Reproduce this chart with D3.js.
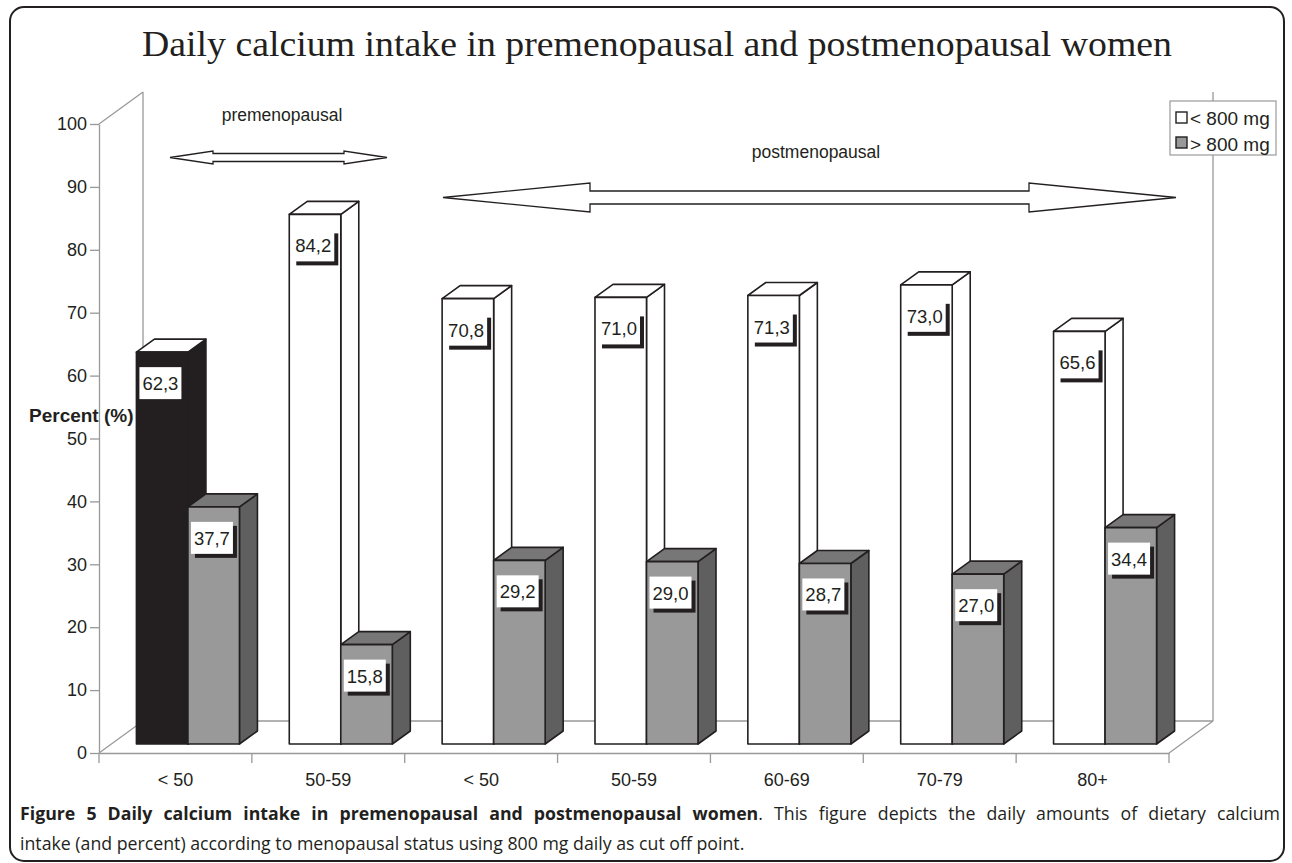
<!DOCTYPE html>
<html>
<head>
<meta charset="utf-8">
<script src="https://cdn.jsdelivr.net/npm/d3@7"></script>
<style>
  html, body { margin: 0; padding: 0; background: #fff; }
  svg { display: block; }
</style>
</head>
<body>
<svg id="chart" width="1292" height="863"></svg>
<script>
// ---------- data ----------
const categories = ["< 50", "50-59", "< 50", "50-59", "60-69", "70-79", "80+"];
const below800 = [62.3, 84.2, 70.8, 71.0, 71.3, 73.0, 65.6];
const above800 = [37.7, 15.8, 29.2, 29.0, 28.7, 27.0, 34.4];
const seriesNames = ["< 800 mg", "> 800 mg"];
const yTicks = [0, 10, 20, 30, 40, 50, 60, 70, 80, 90, 100];
const groupLabels = ["premenopausal", "postmenopausal"];
const titleText = "Daily calcium intake in premenopausal and postmenopausal women";
const yTitle = "Percent (%)";
const captionBold = "Figure 5 Daily calcium intake in premenopausal and postmenopausal women";
const captionRest1 = ". This figure depicts the daily amounts of dietary calcium";
const captionLine2 = "intake (and percent) according to menopausal status using 800 mg daily as cut off point.";

// ---------- layout ----------
const ink = "#231f20";
const wallCol = "#999999";
const sans = "'Liberation Sans', Arial, sans-serif";
const svg = d3.select("#chart");
const fmt = d3.formatLocale({decimal: ",", thousands: ".", grouping: [3], currency: ["", ""]}).format(".1f");

const x = d3.scaleBand().domain(d3.range(categories.length)).range([99, 1169]).paddingInner(0).paddingOuter(0);
const y = d3.scaleLinear().domain([0, 100]).range([753, 124]);

const wallDx = 44, wallDy = -32;      // depth of the back wall
const barOffX = 12.5, barOffY = -9;   // bars placed inside the depth
const barDx = 18, barDy = -13;        // bar 3D depth
const barW = x.bandwidth() * 0.337;

// frame
svg.append("rect").attr("x", 10).attr("y", 7).attr("width", 1274).attr("height", 854)
  .attr("rx", 14).attr("ry", 14).attr("fill", "#fff").attr("stroke", ink).attr("stroke-width", 2);

// title
svg.append("text").attr("x", 142).attr("y", 56)
  .attr("font-family", "'Liberation Serif', 'DejaVu Serif', serif").attr("font-size", 36)
  .attr("fill", ink).attr("textLength", 1030).attr("lengthAdjust", "spacingAndGlyphs")
  .text(titleText);

// walls
const X0 = x.range()[0], X1 = x.range()[1];
const Y0 = y(0), Y100 = y(100);
const wall = svg.append("g").attr("stroke", wallCol).attr("stroke-width", 1.3).attr("fill", "none");
wall.append("line").attr("x1", X0).attr("y1", Y100).attr("x2", X0 + wallDx).attr("y2", Y100 + wallDy);
wall.append("line").attr("x1", X0 + wallDx).attr("y1", Y100 + wallDy).attr("x2", X0 + wallDx).attr("y2", Y0 + wallDy);
wall.append("line").attr("x1", X1 + wallDx).attr("y1", Y100 + wallDy).attr("x2", X1 + wallDx).attr("y2", Y0 + wallDy);
wall.append("line").attr("x1", X0 + wallDx).attr("y1", Y0 + wallDy).attr("x2", X1 + wallDx).attr("y2", Y0 + wallDy);
wall.append("line").attr("x1", X0).attr("y1", Y0).attr("x2", X0 + wallDx).attr("y2", Y0 + wallDy);
wall.append("line").attr("x1", X1).attr("y1", Y0).attr("x2", X1 + wallDx).attr("y2", Y0 + wallDy);

// arrows
function dblArrow(x0, x1, cy, head, H, s) {
  const p = [[x0, cy], [x0 + head, cy - H], [x0 + head, cy - s], [x1 - head, cy - s], [x1 - head, cy - H],
             [x1, cy], [x1 - head, cy + H], [x1 - head, cy + s], [x0 + head, cy + s], [x0 + head, cy + H]];
  return "M" + p.map(d => d.join(",")).join("L") + "Z";
}
svg.append("path").attr("d", dblArrow(170, 387, 157.5, 43, 6.5, 4))
  .attr("fill", "#fff").attr("stroke", ink).attr("stroke-width", 1.3);
svg.append("path").attr("d", dblArrow(443, 1176, 197.5, 147, 14.5, 6.5))
  .attr("fill", "#fff").attr("stroke", ink).attr("stroke-width", 1.3);
svg.append("text").attr("x", 282).attr("y", 121).attr("text-anchor", "middle")
  .attr("font-family", sans).attr("font-size", 17.5).attr("fill", ink)
  .text(groupLabels[0]);
svg.append("text").attr("x", 816).attr("y", 158).attr("text-anchor", "middle")
  .attr("font-family", sans).attr("font-size", 17.5).attr("fill", ink)
  .text(groupLabels[1]);

// bars
const bars = [];
categories.forEach((c, i) => {
  const cx = x(i) + x.bandwidth() / 2 + barOffX;
  bars.push({i, s: 0, v: below800[i], left: cx - barW});
  bars.push({i, s: 1, v: above800[i], left: cx});
});
const faceCols = [
  {front: "#ffffff", top: "#ffffff", side: "#ffffff"},
  {front: "#999999", top: "#777777", side: "#5f5f5f"}
];
const blackCols = {front: ink, top: "#ffffff", side: ink};

const gBars = svg.append("g").attr("stroke", ink).attr("stroke-width", 1.6).attr("stroke-linejoin", "round");
bars.forEach(b => {
  const cols = (b.i === 0 && b.s === 0) ? blackCols : faceCols[b.s];
  const l = b.left, r = b.left + barW;
  const t = y(b.v) + barOffY, bt = y(0) + barOffY;
  const g = gBars.append("g");
  g.append("path").attr("fill", cols.side)
    .attr("d", `M${r},${t}L${r + barDx},${t + barDy}L${r + barDx},${bt + barDy}L${r},${bt}Z`);
  g.append("path").attr("fill", cols.top)
    .attr("d", `M${l},${t}L${l + barDx},${t + barDy}L${r + barDx},${t + barDy}L${r},${t}Z`);
  g.append("rect").attr("fill", cols.front).attr("x", l).attr("y", t).attr("width", barW).attr("height", bt - t);
});

// value labels
const gLab = svg.append("g");
bars.forEach(b => {
  const bx = b.left + 3, by = y(b.v) + barOffY + 15;
  const w = 42, h = 32;
  gLab.append("rect").attr("x", bx + 4).attr("y", by + 4).attr("width", w).attr("height", h).attr("fill", ink);
  gLab.append("rect").attr("x", bx).attr("y", by).attr("width", w).attr("height", h).attr("fill", "#fff");
  gLab.append("text").attr("x", bx + w / 2).attr("y", by + 23).attr("text-anchor", "middle")
    .attr("font-family", sans).attr("font-size", 18.5).attr("fill", ink)
    .text(fmt(b.v));
});

// y axis
const yAxis = svg.append("g").attr("transform", `translate(${X0},0)`)
  .call(d3.axisLeft(y).tickValues(yTicks).tickSize(9).tickPadding(3).tickSizeOuter(0));
yAxis.select(".domain").attr("stroke", wallCol).attr("stroke-width", 1.3);
yAxis.selectAll(".tick line").attr("stroke", wallCol).attr("stroke-width", 1.3);
yAxis.selectAll(".tick text").attr("font-family", sans)
  .attr("font-size", 18).attr("fill", ink);

// x axis
const xAxis = svg.append("g").attr("transform", `translate(0,${Y0})`)
  .call(d3.axisBottom(x).tickFormat(i => categories[i]).tickSize(0).tickPadding(20).tickSizeOuter(0));
xAxis.select(".domain").attr("stroke", wallCol).attr("stroke-width", 1.3);
xAxis.selectAll(".tick text").attr("font-family", sans)
  .attr("font-size", 18).attr("fill", ink);
xAxis.selectAll(".xt").data(d3.range(categories.length + 1)).enter().append("line")
  .attr("x1", i => X0 + i * x.step()).attr("x2", i => X0 + i * x.step())
  .attr("y1", 0).attr("y2", 10).attr("stroke", wallCol).attr("stroke-width", 1.3);

// y title
svg.append("text").attr("x", 29).attr("y", 422)
  .attr("font-family", sans).attr("font-size", 19)
  .attr("font-weight", "bold").attr("fill", ink).text(yTitle);

// legend
const leg = svg.append("g");
leg.append("rect").attr("x", 1170).attr("y", 101).attr("width", 106).attr("height", 54)
  .attr("fill", "#fff").attr("stroke", wallCol).attr("stroke-width", 1.2);
seriesNames.forEach((n, k) => {
  leg.append("rect").attr("x", 1176).attr("y", 112 + k * 25).attr("width", 11).attr("height", 11)
    .attr("fill", faceCols[k].front).attr("stroke", ink).attr("stroke-width", 1.4);
  leg.append("text").attr("x", 1190).attr("y", 125 + k * 26)
    .attr("font-family", sans).attr("font-size", 19).attr("fill", ink)
    .text(n);
});

// caption
const capFont = "'Open Sans', 'Noto Sans', sans-serif";
const cap2 = svg.append("text").attr("x", 20).attr("y", 850)
  .attr("font-family", capFont).attr("font-size", 16).attr("fill", ink).text(captionLine2);
const fs = 16 * 725 / cap2.node().getComputedTextLength();
cap2.attr("font-size", fs);
const cap1 = svg.append("text").attr("x", 20).attr("y", 820)
  .attr("font-family", capFont).attr("font-size", fs).attr("fill", ink);
cap1.append("tspan").attr("font-weight", "bold").text(captionBold);
cap1.append("tspan").text(captionRest1);
const natural = cap1.node().getComputedTextLength();
if (natural < 1260) {
  const nSpaces = (captionBold + captionRest1).split(" ").length - 1;
  cap1.attr("word-spacing", (1260 - natural) / nSpaces);
} else {
  cap1.attr("textLength", 1260).attr("lengthAdjust", "spacingAndGlyphs");
}
</script>
</body>
</html>
